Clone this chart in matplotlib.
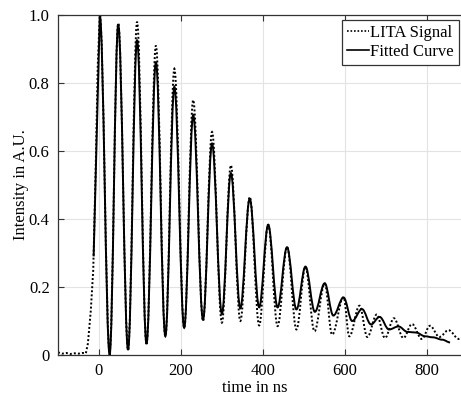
import matplotlib
matplotlib.use("Agg")
import matplotlib.pyplot as plt
from matplotlib.path import Path
from matplotlib.patches import PathPatch
from matplotlib.lines import Line2D

# LITA signal (dotted): baseline, rise, then peaks / troughs
signal_t = [-100, -90, -80, -70, -60, -50, -40, -32, -27, -20, -14, -8, -3,
            2, 26, 47, 71, 93, 116, 139, 162, 184, 208, 230, 254, 276, 300,
            322, 345, 368, 391, 413, 436, 459, 482, 504, 526, 551, 569, 597,
            611, 636, 655, 678, 698, 720, 743, 764, 788, 808, 831, 853, 879, 900]
signal_v = [0.008, 0.004, 0.006, 0.003, 0.005, 0.004, 0.006, 0.005, 0.034, 0.13, 0.25, 0.55, 0.85,
            1.0, 0.01, 0.975, 0.015, 0.98, 0.033, 0.91, 0.055, 0.842, 0.08, 0.75, 0.10, 0.656, 0.095,
            0.558, 0.10, 0.465, 0.087, 0.383, 0.085, 0.318, 0.075, 0.259, 0.07, 0.21, 0.06, 0.17,
            0.055, 0.145, 0.053, 0.119, 0.05, 0.108, 0.05, 0.091, 0.047, 0.086, 0.053, 0.073, 0.047, 0.06]
signal_rise = 13   # points before the first peak are joined by straight lines

# fitted curve (solid)
fit_t = [-13, 2, 26, 47, 71, 93, 116, 139, 162, 184, 208, 230, 254, 276, 300,
         322, 345, 368, 391, 413, 436, 459, 482, 504, 527, 551, 572, 597, 618,
         642, 664, 685, 708, 731, 753, 774, 796, 815, 838, 857]
fit_v = [0.29, 1.0, 0.0, 0.973, 0.015, 0.927, 0.033, 0.862, 0.055, 0.789, 0.08, 0.706, 0.104, 0.622, 0.121,
         0.535, 0.137, 0.46, 0.14, 0.383, 0.14, 0.317, 0.134, 0.26, 0.127, 0.211, 0.116, 0.169, 0.10,
         0.135, 0.09, 0.112, 0.075, 0.084, 0.068, 0.066, 0.055, 0.052, 0.045, 0.037]
fit_rise = 1

xticks = [0, 200, 400, 600, 800]
yticks = [0, 0.2, 0.4, 0.6, 0.8, 1.0]
ytick_labels = ["0", "0.2", "0.4", "0.6", "0.8", "1.0"]


def wave_path(t, v, n_straight):
    # straight segments for the rise, then smooth half-waves between extrema
    verts = [(t[0], v[0])]
    codes = [Path.MOVETO]
    for i in range(1, len(t)):
        if i <= n_straight:
            verts.append((t[i], v[i]))
            codes.append(Path.LINETO)
        else:
            d = t[i] - t[i - 1]
            verts += [(t[i - 1] + 0.364 * d, v[i - 1]), (t[i] - 0.364 * d, v[i]), (t[i], v[i])]
            codes += [Path.CURVE4] * 3
    return Path(verts, codes)


plt.rcParams['font.family'] = ['Liberation Serif', 'DejaVu Serif']
plt.rcParams['font.size'] = 12

fig = plt.figure(figsize=(4.61, 4.0), dpi=100)
ax = fig.add_axes([58 / 461, 45 / 400, (467.7 - 58) / 461, 340 / 400])

dots = (0, (1, 1.1))
ax.add_patch(PathPatch(wave_path(signal_t, signal_v, signal_rise), fill=False,
                       edgecolor='black', linewidth=1.4, linestyle=dots))
ax.add_patch(PathPatch(wave_path(fit_t, fit_v, fit_rise), fill=False,
                       edgecolor='black', linewidth=1.4, linestyle='-'))

ax.set_xlim(-100, 900)
ax.set_ylim(0, 1.0)
ax.set_xticks(xticks)
ax.set_yticks(yticks)
ax.set_yticklabels(ytick_labels)
ax.grid(True, color='#e3e3e3', linewidth=0.8)
ax.set_axisbelow(True)
ax.tick_params(direction='in', top=True, right=True, length=4, width=0.8,
               color='#333333', labelsize=12, pad=6)
for s in ax.spines.values():
    s.set_color('#333333')
    s.set_linewidth(0.9)

ax.set_xlabel('time in ns', fontsize=12, labelpad=2)
ax.xaxis.set_label_coords((255 - 58) / 409.7, -0.075)
ax.set_ylabel('Intensity in A.U.', fontsize=12, labelpad=0)

handles = [Line2D([], [], color='black', linewidth=1.2, linestyle=dots),
           Line2D([], [], color='black', linewidth=1.2, linestyle='-')]
leg = ax.legend(handles, ['LITA Signal', 'Fitted Curve'],
                loc='upper left', bbox_to_anchor=(342 / 461, 1 - 20 / 400),
                bbox_transform=fig.transFigure, fancybox=False, framealpha=1,
                edgecolor='#333333', handlelength=1.3, handletextpad=0.1,
                borderpad=0.3, labelspacing=0.2, borderaxespad=0, fontsize=12)
leg.get_frame().set_linewidth(0.9)

fig.savefig('out.png', dpi=100)
